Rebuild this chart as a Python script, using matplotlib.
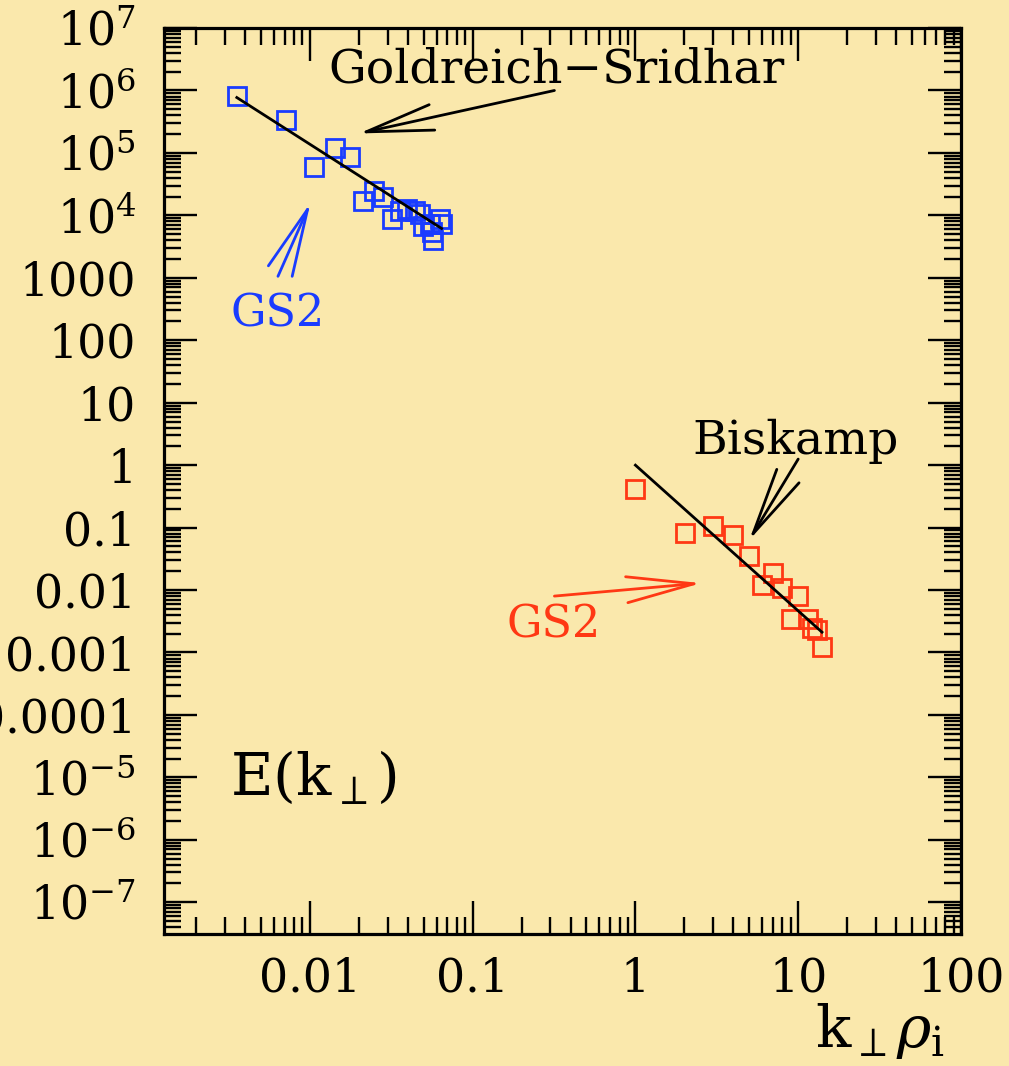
import matplotlib
matplotlib.use("Agg")
import matplotlib.pyplot as plt
from matplotlib.ticker import FixedLocator, FixedFormatter, LogLocator, NullFormatter
import numpy as np

plt.rcParams["font.family"] = ["DejaVu Serif"]
plt.rcParams["mathtext.fontset"] = "dejavuserif"

bg = "#FAE8AC"
blue = "#1A3CFF"
red = "#FF3814"

# GS2 points, MHD range (blue)
gs2_mhd_k = [0.00356, 0.00713, 0.0142, 0.0176, 0.0106, 0.0247, 0.0211, 0.0281,
             0.0318, 0.0357, 0.0394, 0.0441, 0.0473, 0.0493, 0.056, 0.0569,
             0.0628, 0.0646, 0.0545]
gs2_mhd_E = [8.3e5, 3.4e5, 1.18e5, 8.5e4, 5.9e4, 2.5e4, 1.67e4, 1.94e4,
             8.6e3, 1.16e4, 1.25e4, 1.16e4, 1.04e4, 6.7e3, 5.5e3, 4.1e3,
             8.6e3, 7.2e3, 7.2e3]

# GS2 points, kinetic range (red)
gs2_kin_k = [1.0, 2.03, 3.0, 4.0, 5.0, 7.0, 6.0, 8.0, 10.0, 9.06, 11.5, 12.2, 13.1, 14.0]
gs2_kin_E = [0.41, 0.082, 0.106, 0.076, 0.035, 0.0187, 0.012, 0.0108, 0.008,
             0.0034, 0.0034, 0.0025, 0.0023, 0.00122]

# reference power laws
gs_k = [0.00356, 0.0645]
gs_amp = 64.0
gs_index = -5.0 / 3.0
bisk_k = [1.0, 14.0]
bisk_amp = 1.0
bisk_index = -7.0 / 3.0

ytick_vals = [1e7, 1e6, 1e5, 1e4, 1e3, 1e2, 1e1, 1, 0.1, 0.01, 0.001, 0.0001, 1e-5, 1e-6, 1e-7]
ytick_labels = [r"$10^7$", r"$10^6$", r"$10^5$", r"$10^4$", "1000", "100", "10", "1",
                "0.1", "0.01", "0.001", "0.0001", r"$10^{-5}$", r"$10^{-6}$", r"$10^{-7}$"]
xtick_vals = [0.01, 0.1, 1, 10, 100]
xtick_labels = ["0.01", "0.1", "1", "10", "100"]

fig = plt.figure(figsize=(10.09, 10.66), dpi=100, facecolor=bg)
ax = fig.add_axes([0.1625, 0.1238, 0.7899, 0.8499], facecolor=bg)
ax.set_xscale("log")
ax.set_yscale("log")
ax.set_xlim(1.27e-3, 100)
ax.set_ylim(3.1e-8, 1e7)

ax.plot(gs2_mhd_k, gs2_mhd_E, "s", ms=13.5, mfc="none", mec=blue, mew=2.0)
ax.plot(gs2_kin_k, gs2_kin_E, "s", ms=13.5, mfc="none", mec=red, mew=2.0)

kk = np.array(gs_k)
ax.plot(kk, gs_amp * kk ** gs_index, color="black", lw=2.0)
kk = np.array(bisk_k)
ax.plot(kk, bisk_amp * kk ** bisk_index, color="black", lw=2.0)

# ticks
ax.yaxis.set_major_locator(FixedLocator(ytick_vals))
ax.yaxis.set_major_formatter(FixedFormatter(ytick_labels))
ax.xaxis.set_major_locator(FixedLocator(xtick_vals))
ax.xaxis.set_major_formatter(FixedFormatter(xtick_labels))
ax.yaxis.set_minor_locator(LogLocator(base=10, subs=np.arange(2, 10), numticks=50))
ax.xaxis.set_minor_locator(LogLocator(base=10, subs=np.arange(2, 10), numticks=50))
ax.xaxis.set_minor_formatter(NullFormatter())
ax.yaxis.set_minor_formatter(NullFormatter())
ax.tick_params(which="both", direction="in", top=True, right=True, width=1.7, colors="black")
ax.tick_params(which="major", length=24)
ax.tick_params(which="minor", length=12)
ax.tick_params(axis="y", which="major", labelsize=33, pad=20)
ax.tick_params(axis="x", which="major", labelsize=33, pad=16)
for s in ax.spines.values():
    s.set_linewidth(2.3)

# annotations
arrow = dict(arrowstyle="->,head_length=1.35,head_width=0.26", lw=2.0,
             mutation_scale=36, shrinkA=0, shrinkB=0)
ax.annotate("", xy=(0.02, 2.05e5), xytext=(0.318, 1e6),
            arrowprops=dict(arrow, color="black"))
ax.text(0.327, 1.34e6, "Goldreich\u2212Sridhar", fontsize=34, ha="center", va="baseline")

ax.annotate("", xy=(0.0101, 1.6e4), xytext=(0.00637, 1057),
            arrowprops=dict(arrow, color=blue))
ax.text(0.00637, 167, "GS2", fontsize=32, color=blue, ha="center", va="baseline")

ax.annotate("", xy=(5.0, 0.063), xytext=(10.0, 1.25),
            arrowprops=dict(arrow, color="black"))
ax.text(9.7, 1.5, "Biskamp", fontsize=34, ha="center", va="baseline")

ax.annotate("", xy=(2.54, 0.0129), xytext=(0.318, 0.008),
            arrowprops=dict(arrow, color=red))
ax.text(0.314, 0.00177, "GS2", fontsize=32, color=red, ha="center", va="baseline")

ax.text(0.083, 0.153, r"$\mathrm{E(k_{\perp})}$", fontsize=42, transform=ax.transAxes,
        ha="left", va="baseline")
ax.text(0.898, -0.125, r"$\mathrm{k_{\perp}}\rho_{\mathrm{i}}$", fontsize=42,
        transform=ax.transAxes, ha="center", va="baseline", clip_on=False)

fig.savefig("out.png", dpi=100, facecolor=bg)
